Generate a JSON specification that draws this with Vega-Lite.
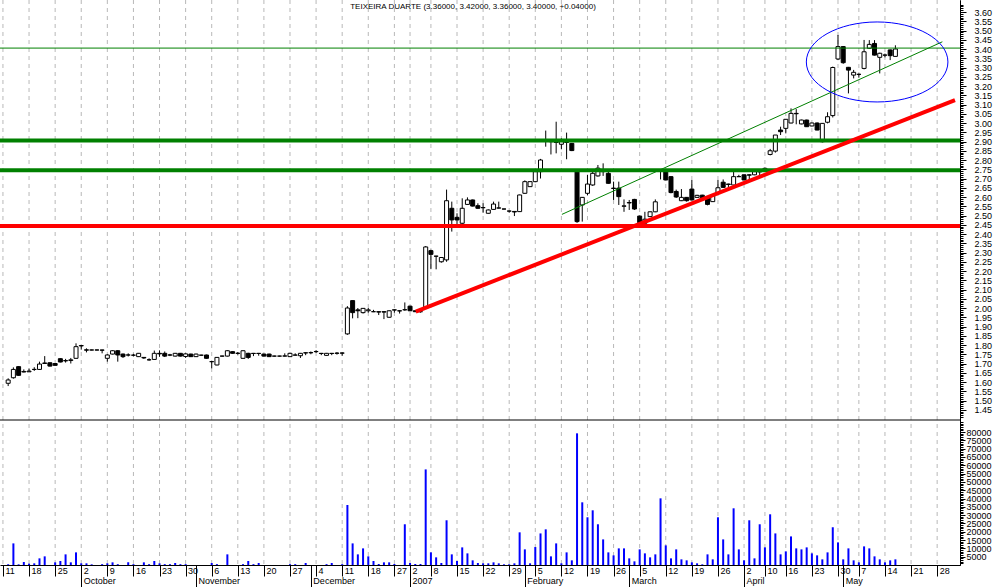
{
  "$schema": "https://vega.github.io/schema/vega-lite/v6.json",
  "width": 960,
  "height": 565,
  "autosize": {"type": "none"},
  "padding": {"left": 0, "top": 0, "right": 34, "bottom": 22},
  "background": "white",
  "config": {"view": {"stroke": null}, "font": "Liberation Sans"},
  "title": {"text": "TEIXEIRA DUARTE (3.36000, 3.42000, 3.36000, 3.40000, +0.04000)", "font": "Liberation Sans", "fontSize": 8, "fontWeight": "normal", "color": "black", "offset": -11, "anchor": "middle", "dx": -7},
  "datasets": {
    "weeks": [{"i":0},{"i":5},{"i":10},{"i":15},{"i":20},{"i":25},{"i":30},{"i":35},{"i":40},{"i":45},{"i":50},{"i":55},{"i":60},{"i":65},{"i":70},{"i":75},{"i":78},{"i":82},{"i":87},{"i":92},{"i":97},{"i":102},{"i":107},{"i":112},{"i":117},{"i":122},{"i":127},{"i":132},{"i":137},{"i":142},{"i":146},{"i":150},{"i":155},{"i":160},{"i":164},{"i":169},{"i":174},{"i":179}],
    "k": [
      {"i":1,"o":1.593,"h":1.62,"l":1.578,"c":1.611,"v":400},
      {"i":2,"o":1.623,"h":1.679,"l":1.618,"c":1.668,"v":13000},
      {"i":3,"o":1.683,"h":1.685,"l":1.634,"c":1.636,"v":400},
      {"i":4,"o":1.654,"h":1.668,"l":1.652,"c":1.657,"v":1800},
      {"i":5,"o":1.655,"h":1.672,"l":1.654,"c":1.659,"v":800},
      {"i":6,"o":1.668,"h":1.68,"l":1.66,"c":1.668,"v":1000},
      {"i":7,"o":1.668,"h":1.71,"l":1.665,"c":1.697,"v":4000},
      {"i":8,"o":1.70,"h":1.74,"l":1.698,"c":1.703,"v":5200},
      {"i":9,"o":1.704,"h":1.706,"l":1.684,"c":1.686,"v":0},
      {"i":10,"o":1.70,"h":1.70,"l":1.69,"c":1.69,"v":1600},
      {"i":11,"o":1.726,"h":1.728,"l":1.706,"c":1.708,"v":2400},
      {"i":12,"o":1.714,"h":1.725,"l":1.705,"c":1.716,"v":6400},
      {"i":13,"o":1.716,"h":1.73,"l":1.70,"c":1.72,"v":1600},
      {"i":14,"o":1.728,"h":1.809,"l":1.726,"c":1.791,"v":7600},
      {"i":15,"o":1.797,"h":1.80,"l":1.775,"c":1.795,"v":1000},
      {"i":16,"o":1.774,"h":1.782,"l":1.76,"c":1.772,"v":1000},
      {"i":17,"o":1.773,"h":1.775,"l":1.771,"c":1.773,"v":400},
      {"i":18,"o":1.773,"h":1.775,"l":1.771,"c":1.773,"v":0},
      {"i":19,"o":1.773,"h":1.774,"l":1.755,"c":1.772,"v":500},
      {"i":20,"o":1.728,"h":1.75,"l":1.71,"c":1.746,"v":1000},
      {"i":21,"o":1.751,"h":1.772,"l":1.749,"c":1.769,"v":1600},
      {"i":22,"o":1.769,"h":1.772,"l":1.71,"c":1.746,"v":500},
      {"i":23,"o":1.751,"h":1.754,"l":1.73,"c":1.737,"v":0},
      {"i":24,"o":1.746,"h":1.755,"l":1.738,"c":1.746,"v":1600},
      {"i":25,"o":1.745,"h":1.752,"l":1.738,"c":1.745,"v":500},
      {"i":26,"o":1.737,"h":1.757,"l":1.735,"c":1.755,"v":0},
      {"i":27,"o":1.733,"h":1.735,"l":1.725,"c":1.73,"v":1600},
      {"i":28,"o":1.72,"h":1.728,"l":1.715,"c":1.72,"v":500},
      {"i":29,"o":1.722,"h":1.77,"l":1.72,"c":1.755,"v":2400},
      {"i":30,"o":1.755,"h":1.771,"l":1.736,"c":1.752,"v":1000},
      {"i":31,"o":1.755,"h":1.765,"l":1.735,"c":1.74,"v":500},
      {"i":32,"o":1.746,"h":1.752,"l":1.74,"c":1.746,"v":500},
      {"i":33,"o":1.74,"h":1.757,"l":1.738,"c":1.755,"v":1200},
      {"i":34,"o":1.755,"h":1.757,"l":1.738,"c":1.74,"v":500},
      {"i":35,"o":1.738,"h":1.755,"l":1.73,"c":1.752,"v":500},
      {"i":36,"o":1.751,"h":1.753,"l":1.735,"c":1.737,"v":0},
      {"i":37,"o":1.737,"h":1.753,"l":1.735,"c":1.751,"v":0},
      {"i":38,"o":1.745,"h":1.747,"l":1.743,"c":1.745,"v":0},
      {"i":39,"o":1.746,"h":1.748,"l":1.726,"c":1.728,"v":0},
      {"i":40,"o":1.71,"h":1.712,"l":1.674,"c":1.71,"v":1200},
      {"i":41,"o":1.692,"h":1.735,"l":1.69,"c":1.733,"v":500},
      {"i":42,"o":1.74,"h":1.742,"l":1.738,"c":1.74,"v":0},
      {"i":43,"o":1.74,"h":1.772,"l":1.738,"c":1.769,"v":6400},
      {"i":44,"o":1.764,"h":1.766,"l":1.753,"c":1.755,"v":0},
      {"i":45,"o":1.755,"h":1.762,"l":1.748,"c":1.755,"v":0},
      {"i":46,"o":1.728,"h":1.772,"l":1.726,"c":1.769,"v":500},
      {"i":47,"o":1.755,"h":1.758,"l":1.725,"c":1.733,"v":2400},
      {"i":48,"o":1.755,"h":1.757,"l":1.74,"c":1.754,"v":500},
      {"i":49,"o":1.755,"h":1.757,"l":1.742,"c":1.754,"v":1200},
      {"i":50,"o":1.751,"h":1.753,"l":1.738,"c":1.74,"v":0},
      {"i":51,"o":1.751,"h":1.753,"l":1.735,"c":1.737,"v":0},
      {"i":52,"o":1.74,"h":1.742,"l":1.738,"c":1.74,"v":0},
      {"i":53,"o":1.74,"h":1.742,"l":1.738,"c":1.74,"v":0},
      {"i":54,"o":1.74,"h":1.755,"l":1.738,"c":1.741,"v":0},
      {"i":55,"o":1.737,"h":1.757,"l":1.735,"c":1.755,"v":500},
      {"i":56,"o":1.745,"h":1.755,"l":1.743,"c":1.746,"v":500},
      {"i":57,"o":1.742,"h":1.757,"l":1.73,"c":1.755,"v":0},
      {"i":58,"o":1.758,"h":1.76,"l":1.745,"c":1.757,"v":1200},
      {"i":59,"o":1.758,"h":1.765,"l":1.75,"c":1.759,"v":0},
      {"i":60,"o":1.764,"h":1.772,"l":1.757,"c":1.765,"v":0},
      {"i":61,"o":1.755,"h":1.757,"l":1.745,"c":1.754,"v":0},
      {"i":62,"o":1.744,"h":1.757,"l":1.742,"c":1.755,"v":500},
      {"i":63,"o":1.755,"h":1.757,"l":1.745,"c":1.754,"v":1200},
      {"i":64,"o":1.755,"h":1.762,"l":1.748,"c":1.756,"v":0},
      {"i":65,"o":1.757,"h":1.759,"l":1.742,"c":1.756,"v":500},
      {"i":66,"o":1.86,"h":2.01,"l":1.855,"c":2.00,"v":36100},
      {"i":67,"o":2.04,"h":2.04,"l":1.944,"c":1.975,"v":13000},
      {"i":68,"o":1.99,"h":2.0,"l":1.945,"c":1.985,"v":6400},
      {"i":69,"o":1.975,"h":2.0,"l":1.97,"c":1.998,"v":10000},
      {"i":70,"o":1.985,"h":2.0,"l":1.975,"c":1.99,"v":5200},
      {"i":71,"o":1.98,"h":1.99,"l":1.978,"c":1.98,"v":2400},
      {"i":72,"o":1.98,"h":1.982,"l":1.962,"c":1.978,"v":600},
      {"i":73,"o":1.98,"h":1.982,"l":1.94,"c":1.978,"v":1600},
      {"i":74,"o":1.95,"h":1.987,"l":1.948,"c":1.985,"v":1600},
      {"i":75,"o":1.99,"h":1.992,"l":1.975,"c":1.989,"v":600},
      {"i":76,"o":1.985,"h":1.987,"l":1.97,"c":1.984,"v":0},
      {"i":77,"o":1.99,"h":2.03,"l":1.985,"c":1.991,"v":24500},
      {"i":78,"o":2.01,"h":2.012,"l":1.983,"c":1.985,"v":1200},
      {"i":79,"o":1.985,"h":1.988,"l":1.978,"c":1.98,"v":600},
      {"i":80,"o":1.98,"h":1.985,"l":1.975,"c":1.98,"v":600},
      {"i":81,"o":1.998,"h":2.335,"l":1.995,"c":2.33,"v":57500},
      {"i":82,"o":2.31,"h":2.315,"l":2.21,"c":2.29,"v":7600},
      {"i":83,"o":2.28,"h":2.282,"l":2.209,"c":2.28,"v":4600},
      {"i":84,"o":2.25,"h":2.275,"l":2.245,"c":2.273,"v":1200},
      {"i":85,"o":2.26,"h":2.64,"l":2.25,"c":2.58,"v":26900},
      {"i":86,"o":2.539,"h":2.575,"l":2.413,"c":2.476,"v":6400},
      {"i":87,"o":2.49,"h":2.512,"l":2.454,"c":2.476,"v":2400},
      {"i":88,"o":2.458,"h":2.593,"l":2.455,"c":2.539,"v":10600},
      {"i":89,"o":2.56,"h":2.598,"l":2.558,"c":2.584,"v":7000},
      {"i":90,"o":2.584,"h":2.586,"l":2.549,"c":2.551,"v":2800},
      {"i":91,"o":2.553,"h":2.566,"l":2.537,"c":2.539,"v":1200},
      {"i":92,"o":2.542,"h":2.566,"l":2.515,"c":2.543,"v":1000},
      {"i":93,"o":2.512,"h":2.533,"l":2.51,"c":2.53,"v":1000},
      {"i":94,"o":2.533,"h":2.575,"l":2.531,"c":2.562,"v":1600},
      {"i":95,"o":2.54,"h":2.575,"l":2.538,"c":2.541,"v":1000},
      {"i":96,"o":2.535,"h":2.537,"l":2.533,"c":2.535,"v":400},
      {"i":97,"o":2.524,"h":2.526,"l":2.515,"c":2.524,"v":400},
      {"i":98,"o":2.522,"h":2.524,"l":2.497,"c":2.519,"v":1000},
      {"i":99,"o":2.521,"h":2.613,"l":2.52,"c":2.611,"v":19650},
      {"i":100,"o":2.62,"h":2.69,"l":2.618,"c":2.683,"v":9400},
      {"i":101,"o":2.656,"h":2.685,"l":2.654,"c":2.683,"v":1000},
      {"i":102,"o":2.683,"h":2.75,"l":2.68,"c":2.737,"v":10800},
      {"i":103,"o":2.737,"h":2.806,"l":2.70,"c":2.80,"v":19000},
      {"i":104,"o":2.90,"h":2.959,"l":2.872,"c":2.90,"v":21450},
      {"i":105,"o":2.90,"h":2.902,"l":2.83,"c":2.899,"v":5200},
      {"i":106,"o":2.897,"h":3.007,"l":2.836,"c":2.895,"v":13000},
      {"i":107,"o":2.885,"h":2.917,"l":2.858,"c":2.90,"v":1000},
      {"i":108,"o":2.90,"h":2.948,"l":2.804,"c":2.895,"v":7600},
      {"i":109,"o":2.89,"h":2.892,"l":2.848,"c":2.851,"v":2800},
      {"i":110,"o":2.737,"h":2.74,"l":2.46,"c":2.467,"v":79200},
      {"i":111,"o":2.557,"h":2.60,"l":2.467,"c":2.598,"v":37700},
      {"i":112,"o":2.62,"h":2.72,"l":2.61,"c":2.67,"v":28700},
      {"i":113,"o":2.665,"h":2.74,"l":2.66,"c":2.728,"v":32900},
      {"i":114,"o":2.714,"h":2.773,"l":2.71,"c":2.756,"v":24500},
      {"i":115,"o":2.737,"h":2.782,"l":2.714,"c":2.74,"v":15400},
      {"i":116,"o":2.728,"h":2.737,"l":2.672,"c":2.674,"v":7600},
      {"i":117,"o":2.648,"h":2.683,"l":2.584,"c":2.646,"v":5800},
      {"i":118,"o":2.648,"h":2.683,"l":2.557,"c":2.602,"v":10000},
      {"i":119,"o":2.55,"h":2.587,"l":2.52,"c":2.552,"v":10000},
      {"i":120,"o":2.57,"h":2.584,"l":2.53,"c":2.568,"v":4000},
      {"i":121,"o":2.587,"h":2.59,"l":2.53,"c":2.535,"v":2200},
      {"i":122,"o":2.497,"h":2.50,"l":2.458,"c":2.461,"v":9400},
      {"i":123,"o":2.458,"h":2.52,"l":2.456,"c":2.48,"v":7000},
      {"i":124,"o":2.494,"h":2.522,"l":2.492,"c":2.52,"v":4600},
      {"i":125,"o":2.52,"h":2.587,"l":2.518,"c":2.574,"v":6400},
      {"i":126,"o":2.745,"h":2.75,"l":2.695,"c":2.74,"v":40100},
      {"i":127,"o":2.74,"h":2.75,"l":2.69,"c":2.692,"v":11800},
      {"i":128,"o":2.71,"h":2.712,"l":2.62,"c":2.624,"v":4000},
      {"i":129,"o":2.63,"h":2.64,"l":2.595,"c":2.60,"v":9400},
      {"i":130,"o":2.58,"h":2.643,"l":2.578,"c":2.598,"v":3400},
      {"i":131,"o":2.598,"h":2.60,"l":2.575,"c":2.58,"v":2800},
      {"i":132,"o":2.643,"h":2.692,"l":2.582,"c":2.584,"v":1600},
      {"i":133,"o":2.598,"h":2.612,"l":2.596,"c":2.609,"v":1000},
      {"i":134,"o":2.61,"h":2.612,"l":2.585,"c":2.587,"v":400},
      {"i":135,"o":2.598,"h":2.60,"l":2.555,"c":2.56,"v":6400},
      {"i":136,"o":2.575,"h":2.612,"l":2.573,"c":2.61,"v":3400},
      {"i":137,"o":2.62,"h":2.692,"l":2.618,"c":2.65,"v":28700},
      {"i":138,"o":2.68,"h":2.695,"l":2.65,"c":2.652,"v":15400},
      {"i":139,"o":2.67,"h":2.672,"l":2.65,"c":2.668,"v":6400},
      {"i":140,"o":2.665,"h":2.737,"l":2.663,"c":2.71,"v":34100},
      {"i":141,"o":2.71,"h":2.72,"l":2.708,"c":2.71,"v":9400},
      {"i":142,"o":2.72,"h":2.722,"l":2.69,"c":2.692,"v":2800},
      {"i":143,"o":2.72,"h":2.722,"l":2.69,"c":2.718,"v":26900},
      {"i":144,"o":2.72,"h":2.74,"l":2.718,"c":2.737,"v":4000},
      {"i":145,"o":2.737,"h":2.745,"l":2.71,"c":2.736,"v":24500},
      {"i":146,"o":2.74,"h":2.76,"l":2.738,"c":2.755,"v":10600},
      {"i":147,"o":2.83,"h":2.86,"l":2.825,"c":2.85,"v":30500},
      {"i":148,"o":2.848,"h":2.935,"l":2.84,"c":2.935,"v":19000},
      {"i":149,"o":2.962,"h":2.98,"l":2.935,"c":2.953,"v":6400},
      {"i":150,"o":2.971,"h":3.02,"l":2.944,"c":3.02,"v":8200},
      {"i":151,"o":3.0,"h":3.079,"l":2.998,"c":3.052,"v":17200},
      {"i":152,"o":3.052,"h":3.075,"l":2.993,"c":3.05,"v":10000},
      {"i":153,"o":2.995,"h":3.018,"l":2.993,"c":3.016,"v":9400},
      {"i":154,"o":3.016,"h":3.018,"l":2.98,"c":2.98,"v":10600},
      {"i":155,"o":2.984,"h":3.002,"l":2.982,"c":3.0,"v":7000},
      {"i":156,"o":3.0,"h":3.003,"l":2.961,"c":2.962,"v":5800},
      {"i":157,"o":2.899,"h":3.0,"l":2.895,"c":2.998,"v":3400},
      {"i":158,"o":3.004,"h":3.058,"l":2.998,"c":3.034,"v":7600},
      {"i":159,"o":3.04,"h":3.305,"l":3.03,"c":3.30,"v":22700},
      {"i":160,"o":3.346,"h":3.476,"l":3.34,"c":3.413,"v":13600},
      {"i":161,"o":3.413,"h":3.415,"l":3.32,"c":3.326,"v":3400},
      {"i":162,"o":3.301,"h":3.303,"l":3.16,"c":3.286,"v":10000},
      {"i":163,"o":3.259,"h":3.287,"l":3.241,"c":3.274,"v":2800},
      {"i":164,"o":3.263,"h":3.268,"l":3.245,"c":3.263,"v":1600},
      {"i":165,"o":3.295,"h":3.449,"l":3.29,"c":3.385,"v":11200},
      {"i":166,"o":3.404,"h":3.448,"l":3.40,"c":3.425,"v":10000},
      {"i":167,"o":3.43,"h":3.448,"l":3.365,"c":3.367,"v":5200},
      {"i":168,"o":3.355,"h":3.38,"l":3.268,"c":3.377,"v":3400},
      {"i":169,"o":3.367,"h":3.375,"l":3.355,"c":3.367,"v":1600},
      {"i":170,"o":3.395,"h":3.397,"l":3.34,"c":3.364,"v":2800},
      {"i":171,"o":3.36,"h":3.42,"l":3.36,"c":3.40,"v":3400}
    ]
  },
  "resolve": {"scale": {"y": "independent"}, "axis": {"x": "independent", "y": "independent"}},
  "layer": [
    {
      "data": {"name": "weeks"},
      "mark": {"type": "rule", "color": "#b8b8b8", "strokeWidth": 1, "strokeDash": [4, 4]},
      "encoding": {
        "x": {"field": "i", "type": "quantitative", "scale": {"domain": [0.3925, 182.42], "nice": false, "zero": false}, "axis": null}
      }
    },
    {
      "data": {"name": "k"},
      "mark": {"type": "bar", "orient": "vertical", "size": 2, "color": "#0000ff"},
      "encoding": {
        "x": {"field": "i", "type": "quantitative", "scale": {"domain": [0.3925, 182.42], "nice": false, "zero": false},
          "axis": {"orient": "bottom", "title": null, "values": [0,5,10,15,20,25,30,35,40,45,50,55,60,65,70,75,78,82,87,92,97,102,107,112,117,122,127,132,137,142,146,150,155,160,164,169,174,179],
            "labelExpr": "['11','18','25','2','9','16','23','30','6','13','20','27','4','11','18','27','2','8','15','22','29','5','12','19','26','5','12','19','26','2','10','16','23','30','7','14','21','28'][indexof([0,5,10,15,20,25,30,35,40,45,50,55,60,65,70,75,78,82,87,92,97,102,107,112,117,122,127,132,137,142,146,150,155,160,164,169,174,179], datum.value)]",
            "grid": false,
            "tickSize": 11, "tickColor": "black", "tickWidth": 1, "domainColor": "black", "domainWidth": 1,
            "labelAlign": "left", "labelBaseline": "top", "labelPadding": -10, "labelOffset": 2,
            "labelFont": "Liberation Sans", "labelFontSize": 9, "labelColor": "black",
            "labelOverlap": false, "labelFlush": false, "labelBound": false}},
        "y": {"field": "v", "type": "quantitative", "scale": {"domain": [0, 339850], "nice": false, "zero": true},
          "axis": {"orient": "right", "title": null, "values": [5000,10000,15000,20000,25000,30000,35000,40000,45000,50000,55000,60000,65000,70000,75000,80000],
            "format": "d", "grid": false, "tickSize": 5, "tickColor": "black", "domainColor": "black",
            "labelPadding": 1, "labelFont": "Liberation Sans", "labelFontSize": 9, "labelColor": "black",
            "labelOverlap": false, "labelFlush": false, "labelBound": false}}
      }
    },
    {
      "data": {"name": "k"},
      "mark": {"type": "rule", "color": "black", "strokeWidth": 1},
      "encoding": {
        "x": {"field": "i", "type": "quantitative", "scale": {"domain": [0.3925, 182.42], "nice": false, "zero": false},
          "axis": {"orient": "bottom", "title": null, "values": [-7, 15, 37, 59, 78, 100, 120, 142, 161],
            "labelExpr": "['September','October','November','December','2007','February','March','April','May'][indexof([-7,15,37,59,78,100,120,142,161], datum.value)]",
            "grid": false, "domain": false, "tickSize": 22, "tickColor": "black", "tickWidth": 1,
            "labelAlign": "left", "labelBaseline": "top", "labelPadding": -11, "labelOffset": 2,
            "labelFont": "Liberation Sans", "labelFontSize": 9, "labelColor": "black",
            "labelOverlap": false, "labelFlush": false, "labelBound": false}},
        "y": {"field": "l", "type": "quantitative", "scale": {"domain": [0.6108, 3.6649], "nice": false, "zero": false},
          "axis": {"orient": "right", "title": null, "values": [1.45,1.5,1.55,1.6,1.65,1.7,1.75,1.8,1.85,1.9,1.95,2.0,2.05,2.1,2.15,2.2,2.25,2.3,2.35,2.4,2.45,2.5,2.55,2.6,2.65,2.7,2.75,2.8,2.85,2.9,2.95,3.0,3.05,3.1,3.15,3.2,3.25,3.3,3.35,3.4,3.45,3.5,3.55,3.6],
            "format": ".2f", "grid": false, "tickSize": 6, "tickColor": "black", "domainColor": "black",
            "labelPadding": 8, "labelFont": "Liberation Sans", "labelFontSize": 9, "labelColor": "black",
            "labelOverlap": false, "labelFlush": false, "labelBound": false}},
        "y2": {"field": "h"}
      }
    },
    {
      "data": {"name": "k"},
      "mark": {"type": "bar", "orient": "vertical", "size": 4, "stroke": "black", "strokeWidth": 1},
      "encoding": {
        "x": {"field": "i", "type": "quantitative", "scale": {"domain": [0.3925, 182.42], "nice": false, "zero": false}, "axis": null},
        "y": {"field": "o", "type": "quantitative", "scale": {"domain": [0.6108, 3.6649], "nice": false, "zero": false}, "axis": null},
        "y2": {"field": "c"},
        "fill": {"condition": {"test": "datum.c >= datum.o", "value": "white"}, "value": "black"}
      }
    },
    {
      "data": {"values": [{"p": 3.405}]},
      "mark": {"type": "rule", "color": "#008000", "strokeWidth": 1},
      "encoding": {"y": {"field": "p", "type": "quantitative", "scale": {"domain": [0.6108, 3.6649], "nice": false, "zero": false},
        "axis": {"orient": "right", "title": null, "labels": false, "domain": false, "grid": false, "tickSize": 3, "tickColor": "black",
          "values": [1.41,1.42,1.43,1.44,1.46,1.47,1.48,1.49,1.51,1.52,1.53,1.54,1.56,1.57,1.58,1.59,1.61,1.62,1.63,1.64,1.66,1.67,1.68,1.69,1.71,1.72,1.73,1.74,1.76,1.77,1.78,1.79,1.81,1.82,1.83,1.84,1.86,1.87,1.88,1.89,1.91,1.92,1.93,1.94,1.96,1.97,1.98,1.99,2.01,2.02,2.03,2.04,2.06,2.07,2.08,2.09,2.11,2.12,2.13,2.14,2.16,2.17,2.18,2.19,2.21,2.22,2.23,2.24,2.26,2.27,2.28,2.29,2.31,2.32,2.33,2.34,2.36,2.37,2.38,2.39,2.41,2.42,2.43,2.44,2.46,2.47,2.48,2.49,2.51,2.52,2.53,2.54,2.56,2.57,2.58,2.59,2.61,2.62,2.63,2.64,2.66,2.67,2.68,2.69,2.71,2.72,2.73,2.74,2.76,2.77,2.78,2.79,2.81,2.82,2.83,2.84,2.86,2.87,2.88,2.89,2.91,2.92,2.93,2.94,2.96,2.97,2.98,2.99,3.01,3.02,3.03,3.04,3.06,3.07,3.08,3.09,3.11,3.12,3.13,3.14,3.16,3.17,3.18,3.19,3.21,3.22,3.23,3.24,3.26,3.27,3.28,3.29,3.31,3.32,3.33,3.34,3.36,3.37,3.38,3.39,3.41,3.42,3.43,3.44,3.46,3.47,3.48,3.49,3.51,3.52,3.53,3.54,3.56,3.57,3.58,3.59,3.61,3.62,3.63,3.64]}}}
    },
    {
      "data": {"values": [{"p": 2.906}, {"p": 2.745}]},
      "mark": {"type": "rule", "color": "#008000", "strokeWidth": 4},
      "encoding": {"y": {"field": "p", "type": "quantitative", "scale": {"domain": [0.6108, 3.6649], "nice": false, "zero": false}, "axis": null}}
    },
    {
      "data": {"values": [{"p": 2.443}]},
      "mark": {"type": "rule", "color": "#ff0000", "strokeWidth": 4},
      "encoding": {"y": {"field": "p", "type": "quantitative", "scale": {"domain": [0.6108, 3.6649], "nice": false, "zero": false}, "axis": null}}
    },
    {
      "data": {"values": [{"i": 79.1, "p": 1.98}, {"i": 182.42, "p": 3.124}]},
      "mark": {"type": "line", "color": "#ff0000", "strokeWidth": 4, "clip": true},
      "encoding": {
        "x": {"field": "i", "type": "quantitative", "scale": {"domain": [0.3925, 182.42], "nice": false, "zero": false}, "axis": null},
        "y": {"field": "p", "type": "quantitative", "scale": {"domain": [0.6108, 3.6649], "nice": false, "zero": false}, "axis": null}
      }
    },
    {
      "data": {"values": [{"i": 107.1, "p": 2.506}, {"i": 180.0, "p": 3.439}]},
      "mark": {"type": "line", "color": "#008000", "strokeWidth": 1, "clip": true},
      "encoding": {
        "x": {"field": "i", "type": "quantitative", "scale": {"domain": [0.3925, 182.42], "nice": false, "zero": false}, "axis": null},
        "y": {"field": "p", "type": "quantitative", "scale": {"domain": [0.6108, 3.6649], "nice": false, "zero": false}, "axis": null}
      }
    },
    {
      "data": {"values": [{"i": 167.5, "p": 3.33}]},
      "mark": {"type": "point", "shape": "M -1 0 A 1 0.565 0 1 1 1 0 A 1 0.565 0 1 1 -1 0 Z", "size": 20050, "filled": false, "stroke": "#0000ff", "strokeWidth": 1, "opacity": 1},
      "encoding": {
        "x": {"field": "i", "type": "quantitative", "scale": {"domain": [0.3925, 182.42], "nice": false, "zero": false}, "axis": null},
        "y": {"field": "p", "type": "quantitative", "scale": {"domain": [0.6108, 3.6649], "nice": false, "zero": false}, "axis": null}
      }
    },
    {
      "data": {"values": [{"v": 87218}]},
      "mark": {"type": "rule", "color": "black", "strokeWidth": 1},
      "encoding": {"y": {"field": "v", "type": "quantitative", "scale": {"domain": [0, 339850], "nice": false, "zero": true},
        "axis": {"orient": "right", "title": null, "labels": false, "domain": false, "grid": false, "tickSize": 3, "tickColor": "black",
          "values": [1000,2000,3000,4000,6000,7000,8000,9000,11000,12000,13000,14000,16000,17000,18000,19000,21000,22000,23000,24000,26000,27000,28000,29000,31000,32000,33000,34000,36000,37000,38000,39000,41000,42000,43000,44000,46000,47000,48000,49000,51000,52000,53000,54000,56000,57000,58000,59000,61000,62000,63000,64000,66000,67000,68000,69000,71000,72000,73000,74000,76000,77000,78000,79000,81000,82000,83000,84000,85000,86000]}}}
    }
  ]
}
